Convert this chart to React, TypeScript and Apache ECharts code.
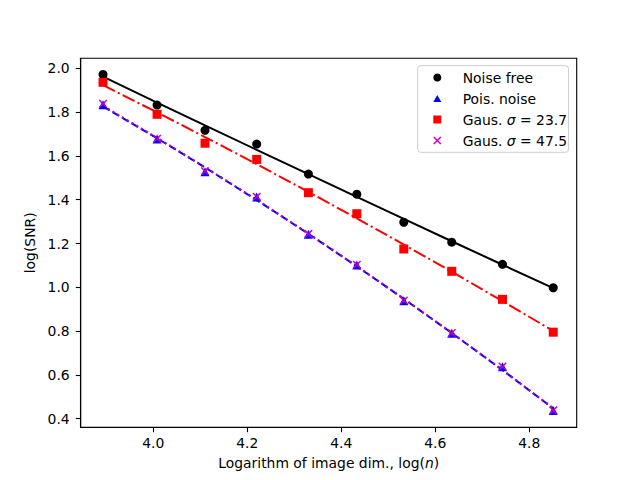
import React, { useEffect, useRef } from "react";
import * as echarts from "echarts";

// ---- data ----
const logN = [3.893, 4.008, 4.11, 4.22, 4.33, 4.433, 4.533, 4.635, 4.743, 4.851];
const noiseFree = [1.972, 1.832, 1.717, 1.654, 1.517, 1.425, 1.297, 1.206, 1.105, 0.998];
const poisNoise = [1.834, 1.677, 1.528, 1.412, 1.242, 1.102, 0.939, 0.79, 0.637, 0.437];
const gaus237 = [1.936, 1.79, 1.658, 1.584, 1.432, 1.336, 1.175, 1.073, 0.945, 0.795];
const gaus475 = [1.838, 1.678, 1.53, 1.414, 1.244, 1.103, 0.94, 0.791, 0.638, 0.438];
const xTicks = [4.0, 4.2, 4.4, 4.6, 4.8];
const yTicks = [0.4, 0.6, 0.8, 1.0, 1.2, 1.4, 1.6, 1.8, 2.0];
const seriesNames = ["Noise free", "Pois. noise", "Gaus. σ = 23.7", "Gaus. σ = 47.5"];

const FONT = "DejaVu Sans";
const FS = 13.9;
const CROSS = "path://M0,1.2L1.2,0L5,3.8L8.8,0L10,1.2L6.2,5L10,8.8L8.8,10L5,6.2L1.2,10L0,8.8L3.8,5Z";
const TRI = "path://M5,0L10,9L0,9Z";
const SQUARE = "path://M0,0L10,0L10,10L0,10Z";
const DOT = "circle";

// quadratic least-squares fit of the points, evaluated at the data x values
function fitCurve(xs: number[], ys: number[]): number[][] {
  const n = xs.length;
  const mx = xs.reduce((a, b) => a + b, 0) / n;
  const s = [0, 0, 0, 0, 0];
  const t = [0, 0, 0];
  for (let i = 0; i < n; i++) {
    const u = xs[i] - mx;
    let p = 1;
    for (let k = 0; k < 5; k++) {
      s[k] += p;
      if (k < 3) t[k] += p * ys[i];
      p *= u;
    }
  }
  const A = [
    [s[0], s[1], s[2], t[0]],
    [s[1], s[2], s[3], t[1]],
    [s[2], s[3], s[4], t[2]],
  ];
  for (let c = 0; c < 3; c++) {
    for (let r = c + 1; r < 3; r++) {
      const f = A[r][c] / A[c][c];
      for (let k = c; k < 4; k++) A[r][k] -= f * A[c][k];
    }
  }
  const co = [0, 0, 0];
  for (let r = 2; r >= 0; r--) {
    let v = A[r][3];
    for (let k = r + 1; k < 3; k++) v -= A[r][k] * co[k];
    co[r] = v / A[r][r];
  }
  return xs.map((x) => {
    const u = x - mx;
    return [x, co[0] + co[1] * u + co[2] * u * u];
  });
}

function pts(xs: number[], ys: number[]): number[][] {
  return xs.map((x, i) => [x, ys[i]]);
}

export default function App() {
  const ref = useRef<HTMLDivElement>(null);
  useEffect(() => {
    if (!ref.current) return;
    const chart = echarts.init(ref.current, undefined, { renderer: "svg" });
    const lineBase = { type: "line", showSymbol: false, symbol: "none", silent: true, z: 2 };
    const option: any = {
      animation: false,
      backgroundColor: "#fff",
      textStyle: { fontFamily: FONT, color: "#000" },
      grid: {
        left: 80.7,
        right: 63.3,
        top: 58.3,
        bottom: 52.7,
        show: true,
        borderColor: "#000",
        borderWidth: 1.1,
        backgroundColor: "transparent",
        outerBoundsMode: "none",
      },
      xAxis: {
        type: "value",
        min: 3.8455,
        max: 4.9009,
        name: "Logarithm of image dim., log({i|n})",
        nameLocation: "middle",
        nameGap: 29,
        nameTextStyle: {
          fontFamily: FONT,
          fontSize: FS,
          color: "#000",
          rich: { i: { fontFamily: FONT, fontSize: FS, fontStyle: "italic", color: "#000" } },
        },
        axisLine: { show: true, onZero: false, lineStyle: { color: "#000", width: 1.1 } },
        axisTick: { show: true, length: 4.9, customValues: xTicks, lineStyle: { color: "#000", width: 1.1 } },
        axisLabel: {
          customValues: xTicks,
          margin: 9,
          fontFamily: FONT,
          fontSize: FS,
          color: "#000",
          formatter: (v: number) => v.toFixed(1),
        },
        splitLine: { show: false },
      },
      yAxis: {
        type: "value",
        min: 0.3607,
        max: 2.0457,
        name: "log(SNR)",
        nameLocation: "middle",
        nameRotate: 90,
        nameGap: 37,
        nameTextStyle: { fontFamily: FONT, fontSize: FS, color: "#000" },
        axisLine: { show: true, onZero: false, lineStyle: { color: "#000", width: 1.1 } },
        axisTick: { show: true, length: 4.9, customValues: yTicks, lineStyle: { color: "#000", width: 1.1 } },
        axisLabel: {
          customValues: yTicks,
          margin: 11,
          fontFamily: FONT,
          fontSize: FS,
          color: "#000",
          formatter: (v: number) => v.toFixed(1),
        },
        splitLine: { show: false },
      },
      legend: {
        orient: "vertical",
        left: 417.7,
        top: 65.7,
        padding: [3.8, 1.5, 3.8, 15.6],
        itemWidth: 8,
        itemHeight: 8,
        itemGap: 5,
        borderColor: "#cccccc",
        borderWidth: 1,
        borderRadius: 3,
        backgroundColor: "rgba(255,255,255,0.8)",
        data: [
          { name: seriesNames[0], icon: DOT },
          { name: seriesNames[1], icon: TRI },
          { name: seriesNames[2], icon: SQUARE },
          { name: seriesNames[3], icon: CROSS },
        ],
        formatter: (name: string) => "{sp|\u00a0}" + name.replace("σ", "{i|σ}"),
        textStyle: {
          fontFamily: FONT,
          fontSize: FS,
          color: "#000",
          lineHeight: 16,
          rich: {
            sp: { width: 16.4, fontSize: FS, lineHeight: 16 },
            i: { fontFamily: FONT, fontSize: FS, fontStyle: "italic", color: "#000", lineHeight: 16 },
          },
        },
      },
      series: [
        {
          ...lineBase,
          name: "fit0",
          data: fitCurve(logN, noiseFree),
          lineStyle: { color: "#000", width: 2, type: "solid" },
        },
        {
          ...lineBase,
          name: "fit1",
          data: fitCurve(logN, poisNoise),
          lineStyle: { color: "#0000ff", width: 2, type: [7.7, 3.3] },
        },
        {
          ...lineBase,
          name: "fit2",
          data: fitCurve(logN, gaus237),
          lineStyle: { color: "#ff0000", width: 2, type: [13.3, 3.3, 2.1, 3.3] },
        },
        {
          ...lineBase,
          name: "fit3",
          data: fitCurve(logN, gaus475),
          lineStyle: { color: "#bf00bf", width: 2, type: [2.1, 3.4] },
        },
        {
          type: "scatter",
          name: seriesNames[0],
          data: pts(logN, noiseFree),
          symbol: DOT,
          symbolSize: 9,
          itemStyle: { color: "#000", opacity: 1 },
          z: 3,
        },
        {
          type: "scatter",
          name: seriesNames[1],
          data: pts(logN, poisNoise),
          symbol: "triangle",
          symbolSize: 9,
          itemStyle: { color: "#0000ff", opacity: 1 },
          z: 3,
        },
        {
          type: "scatter",
          name: seriesNames[2],
          data: pts(logN, gaus237),
          symbol: "rect",
          symbolSize: 9,
          itemStyle: { color: "#ff0000", opacity: 1 },
          z: 3,
        },
        {
          type: "scatter",
          name: seriesNames[3],
          data: pts(logN, gaus475),
          symbol: CROSS,
          symbolSize: 8.5,
          itemStyle: { color: "#bf00bf", opacity: 1 },
          z: 4,
        },
      ],
    };
    chart.setOption(option);
    return () => chart.dispose();
  }, []);
  return (
    <div
      ref={ref}
      style={{ position: "fixed", left: 0, top: 0, width: 640, height: 480 }}
    />
  );
}
